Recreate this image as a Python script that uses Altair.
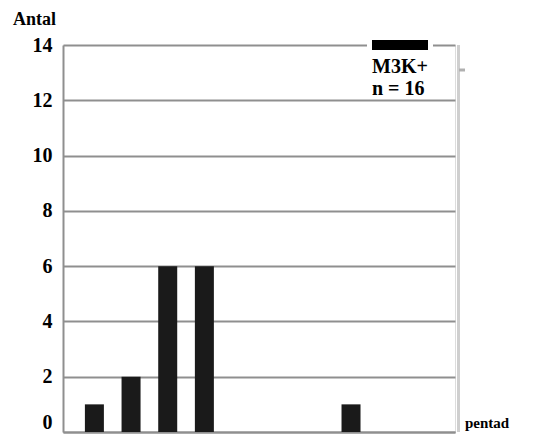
import altair as alt
import pandas as pd

pentads = [1, 2, 3, 4, 8]
counts = [1, 2, 6, 6, 1]
y_ticks = [0, 2, 4, 6, 8, 10, 12, 14]
legend_label = "M3K+"
legend_n = "n = 16"
y_title = "Antal"
x_title = "pentad"

df = pd.DataFrame({"pentad": pentads, "count": counts})

W, H = 392, 387
FONT = "Times New Roman, Liberation Serif, DejaVu Serif, serif"
GRID = "#8f8f8f"

xscale = alt.Scale(domain=[0.28, 10.7], nice=False, zero=False)
yscale = alt.Scale(domain=[0, 14], nice=False)

bars = alt.Chart(df).mark_bar(color="#1a1a1a", size=19).encode(
    x=alt.X("pentad:Q", scale=xscale,
            axis=alt.Axis(title=None, labels=False, ticks=False, grid=False,
                          domainColor=GRID, domainWidth=2)),
    y=alt.Y("count:Q", scale=yscale,
            axis=alt.Axis(title=None, values=y_ticks, grid=True, gridColor=GRID,
                          gridWidth=2, ticks=False, domainColor=GRID, domainWidth=2,
                          labelFont=FONT, labelFontWeight="bold", labelFontSize=20,
                          labelColor="black", labelPadding=11,
                          labelBaseline=alt.ExprRef("datum.value === 0 ? 'bottom' : 'middle'"))),
)

base = alt.Chart(pd.DataFrame({"a": [0]}))

right_band = base.mark_rule(color="#cfcfcf", strokeWidth=3).encode(
    x=alt.value(395.5), y=alt.value(0), y2=alt.value(H)
)
right_tick = base.mark_rule(color="#b0b0b0", strokeWidth=3).encode(
    x=alt.value(396), x2=alt.value(402), y=alt.value(25)
)
legend_bg = base.mark_rect(color="white").encode(
    x=alt.value(304), x2=alt.value(370), y=alt.value(-3), y2=alt.value(3)
)
legend_sym = base.mark_rect(color="black").encode(
    x=alt.value(309), x2=alt.value(365), y=alt.value(-5), y2=alt.value(5)
)
legend_t1 = base.mark_text(font=FONT, fontWeight="bold", fontSize=20, align="left",
                           baseline="alphabetic", color="black").encode(
    x=alt.value(309), y=alt.value(28), text=alt.value(legend_label)
)
legend_t2 = base.mark_text(font=FONT, fontWeight="bold", fontSize=20, align="left",
                           baseline="alphabetic", color="black").encode(
    x=alt.value(309), y=alt.value(50), text=alt.value(legend_n)
)
ytitle = base.mark_text(font=FONT, fontWeight="bold", fontSize=18, align="left",
                        baseline="alphabetic", color="black").encode(
    x=alt.value(-50), y=alt.value(-20), text=alt.value(y_title)
)
xtitle = base.mark_text(font=FONT, fontWeight="bold", fontSize=15, align="left",
                        baseline="alphabetic", color="black").encode(
    x=alt.value(402), y=alt.value(383), text=alt.value(x_title)
)

chart = alt.layer(
    right_band, bars, right_tick, legend_bg, legend_sym, legend_t1, legend_t2, ytitle, xtitle
).properties(
    width=W, height=H,
    autosize=alt.AutoSizeParams(type="none"),
    padding={"left": 55, "top": 37, "right": 71, "bottom": 5},
).configure_view(stroke=GRID, strokeWidth=1.5).configure(background="white")

chart.save("out.html", embed_options={"renderer": "svg", "actions": False})
